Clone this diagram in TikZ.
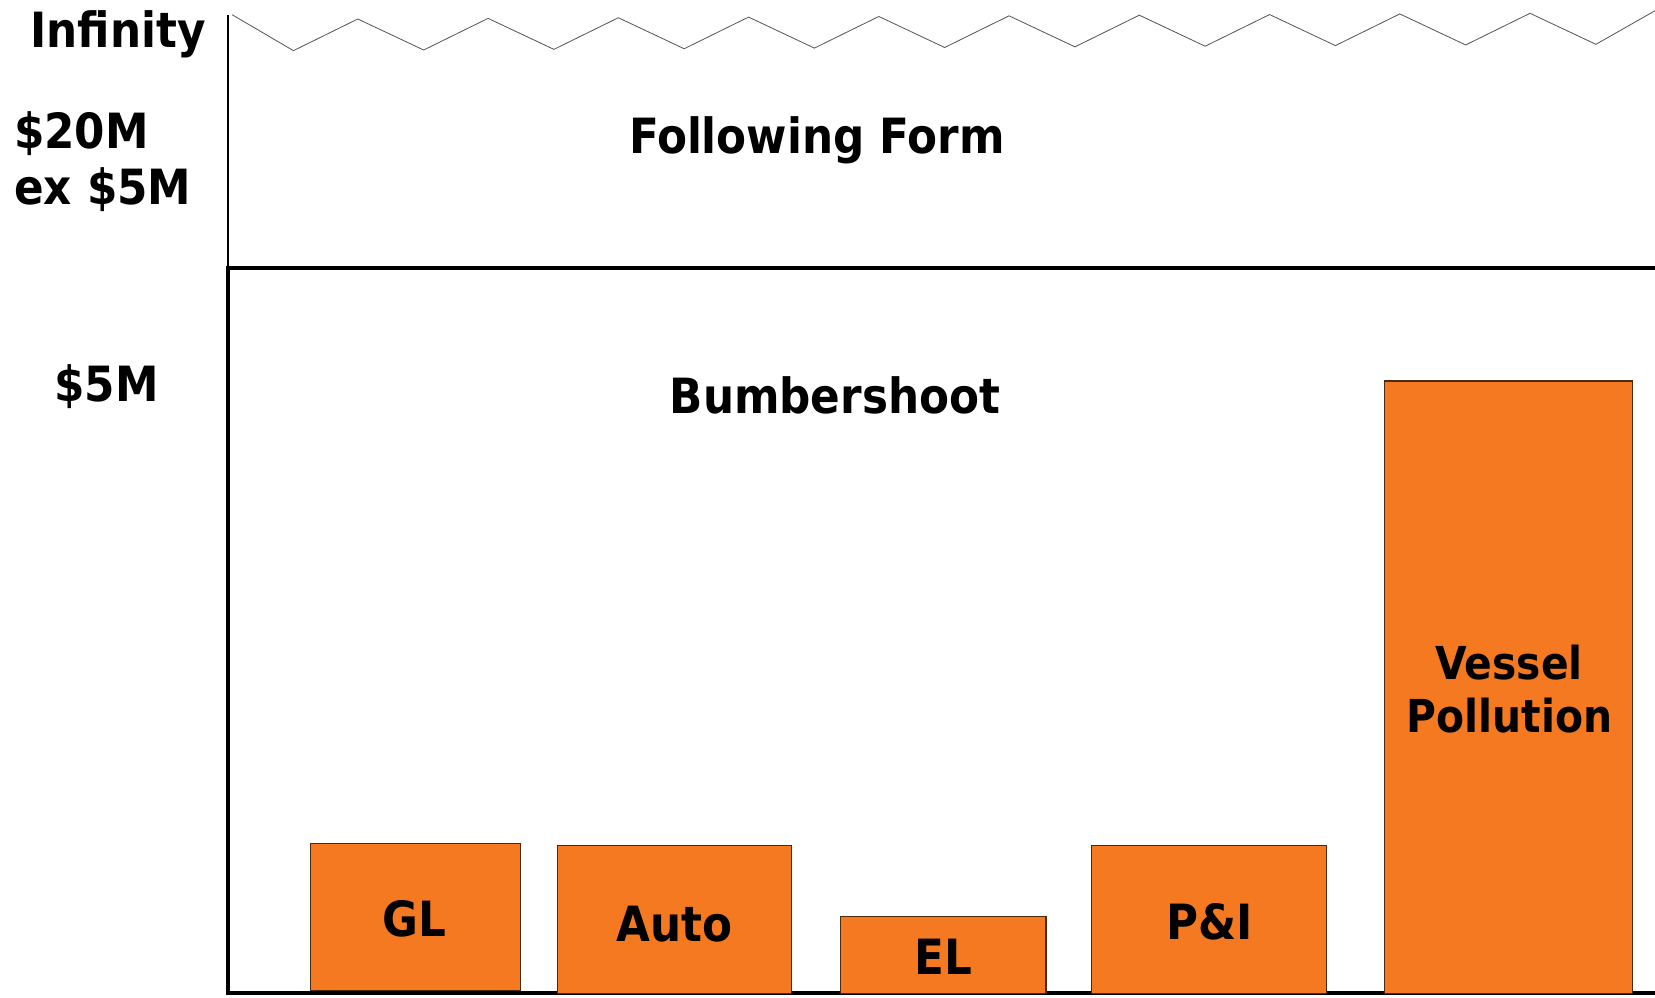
\documentclass[tikz,border=0pt]{standalone}
\usepackage{fontspec}
\setmainfont{DejaVu Sans Condensed Bold}
\usetikzlibrary{fit}
\definecolor{layer}{HTML}{F47920}
\definecolor{edge}{HTML}{4A2A10}
\tikzset{
  lbl/.style={font=\fontsize{23}{27}\selectfont, anchor=base, inner sep=0pt},
  lbll/.style={lbl, anchor=base west},
  vlbl/.style={lbl, font=\fontsize{21.5}{25}\selectfont},
  box/.style={draw=edge, line width=0.5pt, fill=layer, inner sep=0pt},
}
\begin{document}
\begin{tikzpicture}[x=0.5pt,y=-0.5pt]
\useasboundingbox (0,0) rectangle (1568,945);

% open top of the following form layer
\draw[line width=0.5pt] (216,14) -- (216,254);
\draw[black!65, line width=0.4pt] (220,14)
  \foreach \k in {0,...,9} {
    -- ({278+123.4*\k},{48-6*\k/10}) -- ({339+123.4*\k},{18-6*\k/10})
  } -- (1512,42) -- (1600,-8);

% bumbershoot layer
\draw[line width=1.9pt] (1600,254) -- (216,254) -- (216,941) -- (1600,941);

% axis labels
\node[lbl] (inf) at (112,45) {Infinity};
\node[lbll] (l20) at (13,141) {\$20M};
\node[lbll] (lex) at (13,194) {ex \$5M};
\node[lbl] (l5) at (101,380) {\$5M};

% layer titles
\node[lbl] (ff) at (774,145) {Following Form};
\node[lbl] (bs) at (791,392) {Bumbershoot};

% underlying policies
\node[box, fit={(294,799) (493,938)}] (gl) {};
\node[box, fit={(528,801) (750,941)}] (auto) {};
\node[box, fit={(796,868) (991,941)}] (el) {};
\node[box, fit={(1034,801) (1257,941)}] (pi) {};
\node[box, fit={(1312,361) (1547,941)}] (vp) {};

\node[lbl] (tgl) at (393,887) {GL};
\node[lbl] (tauto) at (639,892) {Auto};
\node[lbl] (tel) at (894,923) {EL};
\node[lbl] (tpi) at (1146,890) {P\&I};
\node[vlbl] (tv1) at (1430,644) {Vessel};
\node[vlbl] (tv2) at (1430,694) {Pollution};
\end{tikzpicture}
\end{document}
